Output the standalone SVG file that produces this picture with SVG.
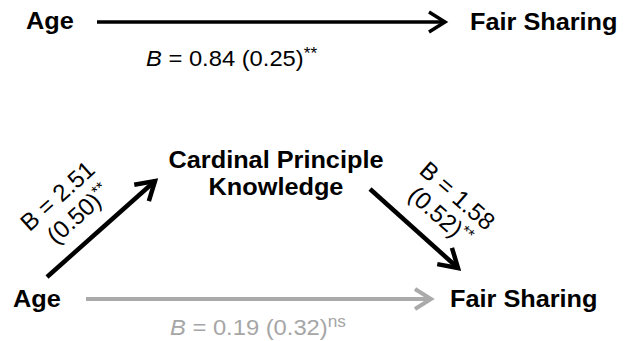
<svg xmlns="http://www.w3.org/2000/svg" width="629" height="341" viewBox="0 0 629 341">
<defs>
<style>
.b{font-family:"Liberation Sans",Arial,sans-serif;font-weight:bold;font-size:23px;fill:#000}
.r{font-family:"Liberation Sans",Arial,sans-serif;font-size:22px;fill:#000}
.d{font-size:24px}
.g{fill:#a6a6a6}
.sup{font-size:16px}
</style>
<marker id="ahk" viewBox="-20 -13 24 26" refX="0" refY="0" markerWidth="24" markerHeight="26" markerUnits="userSpaceOnUse" orient="auto">
<path d="M-16,-10 L0,0 L-16,10" fill="none" stroke="#000" stroke-width="3.5"/>
</marker>
<marker id="ahk2" viewBox="-22 -14 26 28" refX="0" refY="0" markerWidth="26" markerHeight="28" markerUnits="userSpaceOnUse" orient="auto">
<path d="M-18,-11 L0,0 L-18,11" fill="none" stroke="#000" stroke-width="4.5"/>
</marker>
<marker id="ahg" viewBox="-20 -13 24 26" refX="0" refY="0" markerWidth="24" markerHeight="26" markerUnits="userSpaceOnUse" orient="auto">
<path d="M-16,-10 L0,0 L-16,10" fill="none" stroke="#aaaaaa" stroke-width="4"/>
</marker>
</defs>
<rect width="629" height="341" fill="#fff"/>
<g id="connectors">
<line x1="97" y1="22" x2="445" y2="22" stroke="#000" stroke-width="3.5" marker-end="url(#ahk)"/>
<line x1="47" y1="277" x2="155" y2="181" stroke="#000" stroke-width="4.5" marker-end="url(#ahk2)"/>
<line x1="370" y1="189" x2="458" y2="268" stroke="#000" stroke-width="4.5" marker-end="url(#ahk2)"/>
<line x1="86" y1="299" x2="431" y2="299" stroke="#aaaaaa" stroke-width="4" marker-end="url(#ahg)"/>
</g>
<g id="age-top"><text class="b" transform="translate(26,29) scale(1.1,1)">Age</text></g>
<g id="fair-top"><text class="b" transform="translate(470,30) scale(1.1,1)">Fair Sharing</text></g>
<g id="cpk"><text class="b" text-anchor="middle" transform="translate(276,168) scale(1.1,1)">Cardinal Principle</text><text class="b" text-anchor="middle" transform="translate(276,195) scale(1.1,1)">Knowledge</text></g>
<g id="age-bottom"><text class="b" transform="translate(13,307) scale(1.1,1)">Age</text></g>
<g id="fair-bottom"><text class="b" transform="translate(450,307) scale(1.1,1)">Fair Sharing</text></g>
<g id="labels">
<text class="r" transform="translate(146,66) scale(1.08,1)"><tspan font-style="italic">B</tspan> = 0.84 (0.25)<tspan class="sup" dy="-7">**</tspan></text>
<text class="r g" transform="translate(170,335) scale(1.08,1)"><tspan font-style="italic">B</tspan> = 0.19 (0.32)<tspan class="sup" dy="-8">ns</tspan></text>
<text class="r d" text-anchor="middle" transform="translate(63,202) rotate(-42)">B = 2.51</text>
<text class="r d" text-anchor="middle" transform="translate(84,220) rotate(-42)">(0.50)<tspan class="sup" dy="-8">**</tspan></text>
<text class="r d" text-anchor="middle" transform="translate(452,202) rotate(41)">B = 1.58</text>
<text class="r d" text-anchor="middle" transform="translate(435,222) rotate(41)">(0.52)<tspan class="sup" dy="-8">**</tspan></text>
</g>
</svg>
